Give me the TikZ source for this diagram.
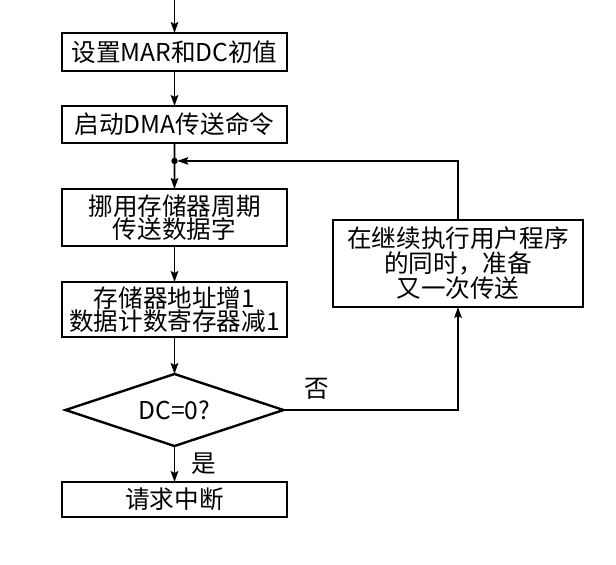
\documentclass[tikz,border=0pt]{standalone}
\usepackage{fontspec}
\setmainfont{Noto Sans CJK SC}
\usepackage{tikz}
\usetikzlibrary{
  shapes.geometric,
  arrows.meta,
  positioning,
  calc
}
\tikzset{
  % Kutu stilleri
  procbox/.style={
    draw=black,
    line width=1.2pt,
    minimum width=112.5pt,
    inner sep=0pt,
    outer sep=0pt,
    align=center,
    font=\fontsize{12.3}{11.5}\selectfont
  },
  sidebox/.style={procbox, minimum width=125pt, minimum height=43.5pt,
    font=\fontsize{12.3}{12.5}\selectfont},
  decbox/.style={
    diamond,
    aspect=3,
    draw=black,
    line width=1.2pt,
    minimum width=109pt,
    minimum height=36pt,
    inner sep=0pt,
    outer sep=0pt,
    font=\fontsize{12.3}{11.5}\selectfont
  },
  % Ok stilleri
  arrow/.style={-{Stealth[length=5.5pt, width=3.8pt, inset=1pt]}, line width=0.9pt},
  looparrow/.style={-{Stealth[length=5.5pt, width=3.8pt, inset=1pt]}, line width=0.6pt},
  % Etiket
  label node/.style={
    inner sep=0pt,
    font=\fontsize{12.3}{11.5}\selectfont
  },
}
\begin{document}
\begin{tikzpicture}
  \useasboundingbox (0,0) rectangle (308pt,-282pt);
  \coordinate (start) at (87.25pt,0pt);
  \node[procbox, minimum height=19pt] (init) at (87.25pt,-26pt) {设置MAR和DC初值};
  \node[procbox, minimum height=18.5pt, below=17.5pt of init] (startdma) {启动DMA传送命令};
  \node[procbox, minimum height=28.5pt, below=23pt of startdma] (steal) {挪用存储器周期\\传送数据字};
  \node[procbox, minimum height=27.5pt, below=18pt of steal] (update) {存储器地址增1\\数据计数寄存器减1};
  \node[decbox, below=18.5pt of update] (dc) {DC=0?};
  \node[procbox, minimum height=17.5pt, below=18pt of dc] (irq) {请求中断};
  \node[sidebox] (user) at (229pt,-131.75pt) {在继续执行用户程序\\的同时，准备\\又一次传送};
  \coordinate (join) at ($(startdma.south)!0.39!(steal.north)$);
  % Ana akış
  \draw[arrow] (start) -- (init);
  \draw[arrow] (init) -- (startdma);
  \draw[line width=0.9pt] (startdma) -- (join);
  \draw[arrow] (join) -- (steal);
  \draw[arrow] (steal) -- (update);
  \draw[arrow] (update) -- (dc);
  \draw[arrow] (dc) -- node[label node, right=8pt] {是} (irq);
  % Geri dönüş
  \draw[looparrow] (dc.east) -- node[label node, pos=0.19, above=5pt] {否} (dc.east -| user.south) -- (user.south);
  \draw[looparrow, shorten >=1.4pt] (user.north) |- (join);
  \fill (join) circle (1.6pt);
\end{tikzpicture}
\end{document}
